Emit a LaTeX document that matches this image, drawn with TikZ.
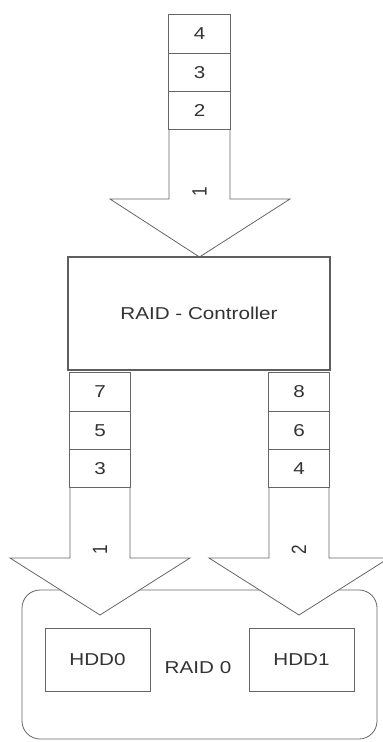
\documentclass[tikz,border=0pt]{standalone}
\usepackage{fontspec}
\setmainfont{Liberation Sans}
\definecolor{ln}{HTML}{666666}
\definecolor{bx}{HTML}{5e5e5e}
\definecolor{tx}{HTML}{333333}
\newcommand\hs[1]{\scalebox{1.2}[1]{#1}}
\newcommand\vs[1]{\scalebox{1}[1.2]{#1}}
\begin{document}
\begin{tikzpicture}[x=1pt,y=-1pt,line width=0.8pt]
\tikzset{
  lbl/.style={font=\fontsize{17.2}{20}\selectfont, text=tx, inner sep=0pt},
  arrowshape/.style={draw=ln, fill=white, line join=miter},
  cell/.style={draw=ln, fill=white, minimum width=61.5pt, minimum height=38.3pt, inner sep=0pt, lbl},
  box/.style={draw=ln, fill=white, inner sep=0pt, lbl},
}
\useasboundingbox (0,0) rectangle (383,742);

% RAID 0 group
\draw[draw=ln, rounded corners=18pt] (22,590) rectangle (377,739);

% top arrow
\draw[arrowshape] (169,15) -- (169,199) -- (110,199) -- (199.5,257) -- (290,199) -- (230,199) -- (230,15) -- cycle;
\node[lbl, rotate=90] (t1) at (199.5,192) {\vs{1}};
\node[cell] (c4) at (199.5,34) {\hs{4}};
\node[cell] (c3) at (199.5,72.3) {\hs{3}};
\node[cell] (c2) at (199.5,110.6) {\hs{2}};

% controller
\node[box, draw=bx, line width=1.2pt, minimum width=262pt, minimum height=113pt] (ctrl) at (199,313.5) {\hs{RAID - Controller}};

% left arrow
\draw[arrowshape] (70,373) -- (70,558) -- (10,558) -- (100,615) -- (190,558) -- (130,558) -- (130,373) -- cycle;
\node[lbl, rotate=90] (l1) at (100,550) {\vs{1}};
\node[cell] (c7) at (100,392) {\hs{7}};
\node[cell] (c5) at (100,430.3) {\hs{5}};
\node[cell] (c3b) at (100,468.6) {\hs{3}};

% right arrow
\draw[arrowshape] (269,373) -- (269,558) -- (209,558) -- (299,615) -- (389,558) -- (329,558) -- (329,373) -- cycle;
\node[lbl, rotate=90] (r2) at (299,550) {\vs{2}};
\node[cell] (c8) at (299,392) {\hs{8}};
\node[cell] (c6) at (299,430.3) {\hs{6}};
\node[cell] (c4b) at (299,468.6) {\hs{4}};

% disks
\node[box, minimum width=105pt, minimum height=63pt] (hdd0) at (97.5,659.5) {\hs{HDD0}};
\node[box, minimum width=105pt, minimum height=63pt] (hdd1) at (301.5,659.5) {\hs{HDD1}};
\node[lbl] (raid0) at (198,667.5) {\hs{RAID 0}};
\end{tikzpicture}
\end{document}
